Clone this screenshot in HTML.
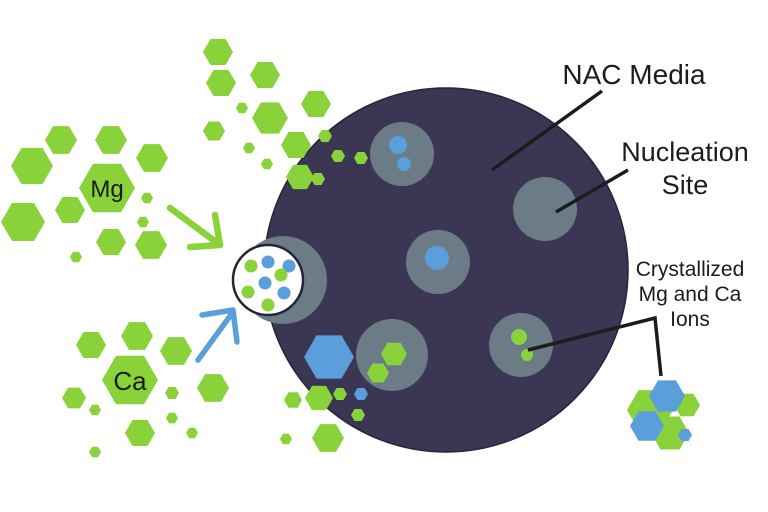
<!DOCTYPE html>
<html><head><style>
html,body{margin:0;padding:0;background:#fff;}
svg{display:block;}
text{font-family:"Liberation Sans",sans-serif;fill:#1c1c1c;}
</style></head><body>
<svg width="768" height="512" viewBox="0 0 768 512" xmlns="http://www.w3.org/2000/svg">
<defs>
<polygon id="h" points="1,0 0.5,0.866 -0.5,0.866 -1,0 -0.5,-0.866 0.5,-0.866"/>
<clipPath id="mag"><circle cx="268" cy="280" r="35"/></clipPath>
</defs>
<rect width="768" height="512" fill="#fff"/>
<circle cx="446" cy="270" r="182" fill="#3a3654" stroke="#26233a" stroke-width="1.5"/>
<circle cx="283" cy="280" r="44" fill="#6b7c86"/>
<g fill="#6b7c86">
<circle cx="402" cy="154" r="32"/>
<circle cx="545" cy="209" r="32"/>
<circle cx="438" cy="262" r="32"/>
<circle cx="392" cy="355" r="36"/>
<circle cx="521" cy="345" r="32"/>
</g>
<g fill="#5a9fdc">
<circle cx="398" cy="145" r="9"/><circle cx="404" cy="164" r="7"/>
<circle cx="437" cy="258" r="12"/>
</g>
<g fill="#8ad23a">
<circle cx="519" cy="337" r="8"/><circle cx="527" cy="355" r="6"/>
</g>
<g fill="#8ad23a">
<use href="#h" transform="translate(218,52) scale(15)"/>
<use href="#h" transform="translate(265,75) scale(15)"/>
<use href="#h" transform="translate(221,83) scale(15)"/>
<use href="#h" transform="translate(316,104) scale(15)"/>
<use href="#h" transform="translate(270,118) scale(18)"/>
<use href="#h" transform="translate(214,131) scale(11)"/>
<use href="#h" transform="translate(242,108) scale(6)"/>
<use href="#h" transform="translate(296,145) scale(15)"/>
<use href="#h" transform="translate(249,148) scale(6)"/>
<use href="#h" transform="translate(267,164) scale(6)"/>
<use href="#h" transform="translate(325,136) scale(7)"/>
<use href="#h" transform="translate(338,156) scale(7)"/>
<use href="#h" transform="translate(361,158) scale(7)"/>
<use href="#h" transform="translate(300,177) scale(14)"/>
<use href="#h" transform="translate(318,179) scale(7)"/>
<use href="#h" transform="translate(32,166) scale(21)"/>
<use href="#h" transform="translate(61,140) scale(16)"/>
<use href="#h" transform="translate(111,140) scale(16)"/>
<use href="#h" transform="translate(152,158) scale(16)"/>
<use href="#h" transform="translate(107,188) scale(28)"/>
<use href="#h" transform="translate(70,210) scale(15)"/>
<use href="#h" transform="translate(23,222) scale(22)"/>
<use href="#h" transform="translate(147,198) scale(6)"/>
<use href="#h" transform="translate(143,222) scale(6)"/>
<use href="#h" transform="translate(111,242) scale(15)"/>
<use href="#h" transform="translate(151,245) scale(16)"/>
<use href="#h" transform="translate(76,257) scale(6)"/>
<use href="#h" transform="translate(91,345) scale(15)"/>
<use href="#h" transform="translate(137,336) scale(16)"/>
<use href="#h" transform="translate(176,351) scale(16)"/>
<use href="#h" transform="translate(130,380) scale(28)"/>
<use href="#h" transform="translate(74,398) scale(12)"/>
<use href="#h" transform="translate(95,410) scale(6)"/>
<use href="#h" transform="translate(172,393) scale(7)"/>
<use href="#h" transform="translate(213,388) scale(16)"/>
<use href="#h" transform="translate(172,418) scale(6)"/>
<use href="#h" transform="translate(140,433) scale(15)"/>
<use href="#h" transform="translate(192,433) scale(6)"/>
<use href="#h" transform="translate(95,452) scale(6)"/>
<use href="#h" transform="translate(293,400) scale(9)"/>
<use href="#h" transform="translate(319,398) scale(14)"/>
<use href="#h" transform="translate(340,394) scale(7)"/>
<use href="#h" transform="translate(358,415) scale(7)"/>
<use href="#h" transform="translate(328,438) scale(16)"/>
<use href="#h" transform="translate(286,439) scale(6)"/>
<use href="#h" transform="translate(394,354) scale(13)"/>
<use href="#h" transform="translate(378,373) scale(11)"/>
</g>
<use href="#h" transform="translate(329,357) scale(25)" fill="#5a9fdc"/>
<use href="#h" transform="translate(361,394) scale(7)" fill="#5a9fdc"/>
<text x="107" y="197" font-size="24" text-anchor="middle">Mg</text>
<text x="130" y="390" font-size="26" text-anchor="middle">Ca</text>
<g fill="none" stroke-linecap="round" stroke-linejoin="round">
<path d="M170,208 L220,245 M190,247 L220,245 L215,215" stroke="#8ad23a" stroke-width="6.5"/>
<path d="M198,360 L233,312 M202,315 L233,310 L237,342" stroke="#5a9fdc" stroke-width="5.5"/>
</g>
<circle cx="268" cy="280" r="35" fill="#fff" stroke="#26233a" stroke-width="2.5"/>
<g clip-path="url(#mag)">
<circle cx="251" cy="266" r="6.5" fill="#8ad23a"/>
<circle cx="268" cy="262" r="6.5" fill="#5a9fdc"/>
<circle cx="289" cy="266" r="6.5" fill="#5a9fdc"/>
<circle cx="281" cy="275" r="6.5" fill="#8ad23a"/>
<circle cx="265" cy="283" r="6.5" fill="#5a9fdc"/>
<circle cx="248" cy="292" r="6.5" fill="#8ad23a"/>
<circle cx="284" cy="293" r="6.5" fill="#5a9fdc"/>
<circle cx="268" cy="305" r="6.5" fill="#8ad23a"/>
</g>
<g>
<use href="#h" transform="translate(650,410) scale(23)" fill="#8ad23a"/>
<use href="#h" transform="translate(687,405) scale(13)" fill="#8ad23a"/>
<use href="#h" transform="translate(670,433) scale(19)" fill="#8ad23a"/>
<use href="#h" transform="translate(667,396) scale(18)" fill="#5a9fdc"/>
<use href="#h" transform="translate(647,426) scale(17)" fill="#5a9fdc"/>
<use href="#h" transform="translate(685,435) scale(7)" fill="#5a9fdc"/>
</g>
<g stroke="#1c1c1c" stroke-width="3.5" fill="none">
<line x1="492" y1="170" x2="602" y2="91"/>
<line x1="556" y1="212" x2="628" y2="170"/>
<polyline points="528,350 655,318 661,376"/>
</g>
<text x="634" y="84" font-size="28" text-anchor="middle">NAC Media</text>
<text x="685" y="161" font-size="27" text-anchor="middle">Nucleation</text>
<text x="685" y="194" font-size="27" text-anchor="middle">Site</text>
<text x="690" y="276" font-size="21" text-anchor="middle">Crystallized</text>
<text x="690" y="301" font-size="21" text-anchor="middle">Mg and Ca</text>
<text x="690" y="326" font-size="21" text-anchor="middle">Ions</text>
</svg>
</body></html>
